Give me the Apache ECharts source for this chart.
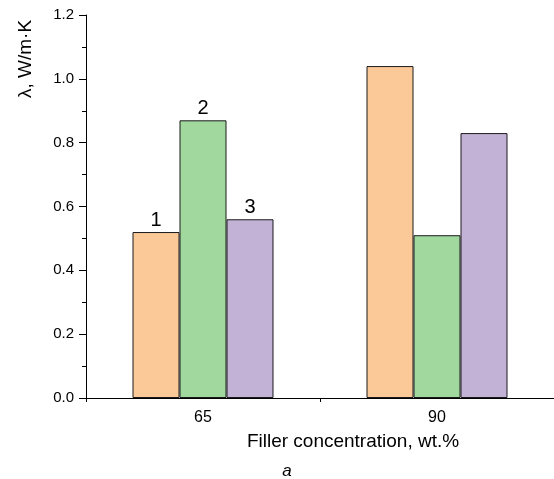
<!DOCTYPE html>
<html>
<head>
<meta charset="utf-8">
<script src="https://cdn.jsdelivr.net/npm/echarts@6/dist/echarts.min.js"></script>
<style>html,body{margin:0;padding:0;background:#fff}#c{width:554px;height:479px}</style>
</head>
<body>
<div id="c"></div>
<script>
const categories = ['65', '90'];
const seriesNames = ['1', '2', '3'];
const series1 = [0.52, 1.04];
const series2 = [0.87, 0.51];
const series3 = [0.56, 0.83];
const yTicks = [0, 0.2, 0.4, 0.6, 0.8, 1.0, 1.2];

const colors = ['#FBC898', '#A0D89E', '#C2B2D6'];
const font = 'Liberation Sans, Arial, sans-serif';
const chart = echarts.init(document.getElementById('c'), null, {renderer: 'canvas'});
const values = [series1, series2, series3];

chart.setOption({
  animation: false,
  backgroundColor: '#fff',
  grid: {left: 86, top: 15, width: 472, height: 383, containLabel: false},
  xAxis: [{
    type: 'category', data: categories, boundaryGap: true,
    axisLine: {lineStyle: {color: '#000', width: 1}},
    axisTick: {alignWithLabel: true, length: 7, lineStyle: {color: '#000'}},
    axisLabel: {color: '#000', fontSize: 16, fontFamily: font, margin: 12},
    splitLine: {show: false}
  }, {
    type: 'category', data: categories, boundaryGap: true, position: 'bottom',
    axisLine: {show: false},
    axisTick: {show: true, interval: 0, length: 4, lineStyle: {color: '#000'}},
    axisLabel: {show: false}, splitLine: {show: false}
  }],
  yAxis: {
    type: 'value', min: yTicks[0], max: yTicks[yTicks.length - 1], interval: 0.2,
    axisLine: {show: true, lineStyle: {color: '#000', width: 1}},
    axisTick: {show: true, length: 7, lineStyle: {color: '#000'}},
    minorTick: {show: true, splitNumber: 2, length: 4, lineStyle: {color: '#000'}},
    axisLabel: {color: '#000', fontSize: 15, fontFamily: font, margin: 12,
      formatter: v => v.toFixed(1)},
    splitLine: {show: false}
  },
  series: values.map((vals, i) => ({
    type: 'bar', name: seriesNames[i], data: vals, xAxisIndex: 0,
    barWidth: 47, barGap: '0%',
    itemStyle: {color: colors[i], borderColor: '#1a1a1a', borderWidth: 1},
    label: {
      show: true, position: 'top', distance: 2, color: '#000',
      fontSize: 20, fontFamily: font,
      formatter: p => p.dataIndex === 0 ? p.seriesName : ''
    }
  })),
  graphic: [
    {type: 'text', x: 26, y: 59, rotation: Math.PI / 2,
      style: {text: 'λ, W/m·K', font: '19px ' + font, fill: '#000', align: 'center', verticalAlign: 'middle'}},
    {type: 'text', x: 353, y: 442,
      style: {text: 'Filler concentration, wt.%', font: '19px ' + font, fill: '#000', align: 'center', verticalAlign: 'middle'}},
    {type: 'text', x: 287, y: 471,
      style: {text: 'a', font: 'italic 17px ' + font, fill: '#000', align: 'center', verticalAlign: 'middle'}}
  ]
});
</script>
</body>
</html>
